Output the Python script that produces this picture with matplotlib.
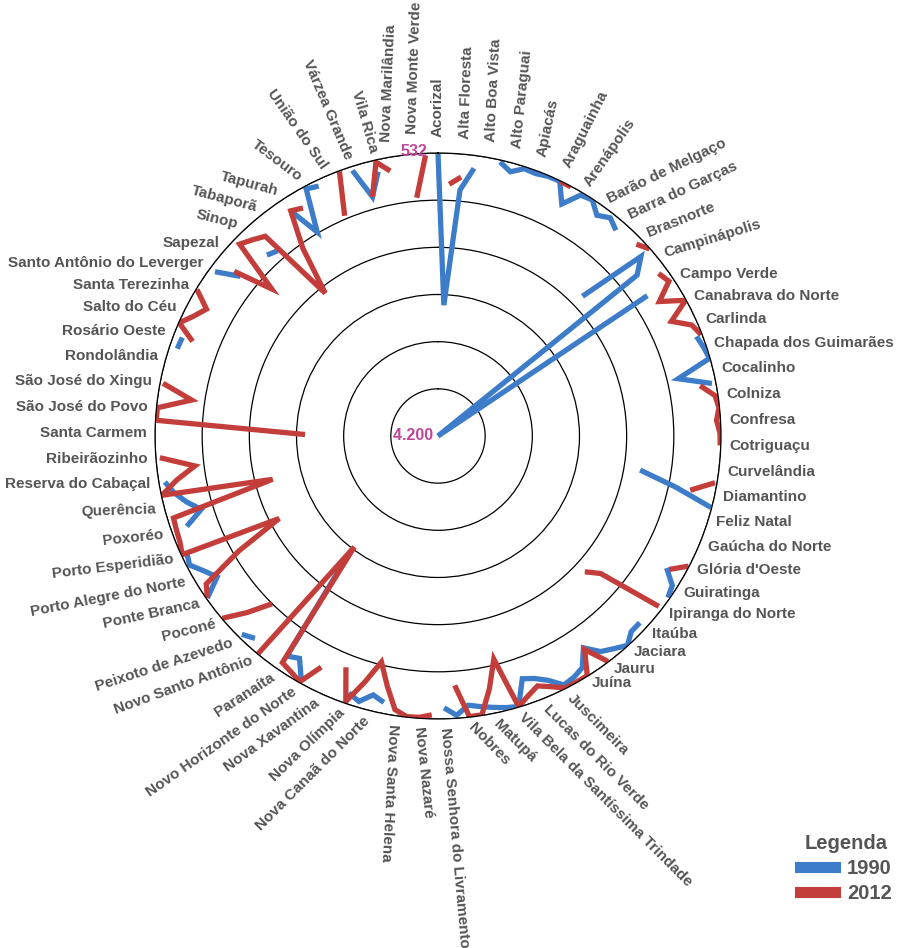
import numpy as np
import matplotlib.pyplot as plt
from matplotlib.lines import Line2D

nan = np.nan

# municipalities (every second one carries a label)
labels = ["Acorizal", "Alta Floresta", "Alto Boa Vista", "Alto Paraguai", "Apiacás",
          "Araguainha", "Arenápolis", "Barão de Melgaço", "Barra do Garças", "Brasnorte",
          "Campinápolis", "Campo Verde", "Canabrava do Norte", "Carlinda",
          "Chapada dos Guimarães", "Cocalinho", "Colniza", "Confresa", "Cotriguaçu",
          "Curvelândia", "Diamantino", "Feliz Natal", "Gaúcha do Norte", "Glória d'Oeste",
          "Guiratinga", "Ipiranga do Norte", "Itaúba", "Jaciara", "Jauru", "Juína",
          "Juscimeira", "Lucas do Rio Verde", "Vila Bela da Santíssima Trindade", "Matupá",
          "Nobres", "Nossa Senhora do Livramento", "Nova Nazaré", "Nova Santa Helena",
          "Nova Canaã do Norte", "Nova Olímpia", "Nova Xavantina", "Novo Horizonte do Norte",
          "Paranaíta", "Novo Santo Antônio", "Peixoto de Azevedo", "Poconé", "Ponte Branca",
          "Porto Alegre do Norte", "Porto Esperidião", "Poxoréo", "Querência",
          "Reserva do Cabaçal", "Ribeirãozinho", "Santa Carmem", "São José do Povo",
          "São José do Xingu", "Rondolândia", "Rosário Oeste", "Salto do Céu",
          "Santa Terezinha", "Santo Antônio do Leverger", "Sapezal", "Sinop", "Tabaporã",
          "Tapurah", "Tesouro", "União do Sul", "Várzea Grande", "Vila Rica",
          "Nova Marilândia", "Nova Monte Verde"]
n_points = 141

# text angle of every label
label_rot = [90, 88, 87, 84, 78, 63, 55, 26, 25, 22, 17] + [0] * 19 + \
            [-45, -45, -45, -45, -46, -85, -84, -93,
             45, 44, 36, 35, 33, 20, 18, 14, 12, 11, 7, 6, 2] + [0] * 11 + \
            [-14, -15, -15, -37, -55, -67, -74, 87.5, 88]

# ranking per municipality (nan = not shown)
rank_1990 = [540, 2502, 999, 700, nan, 558, 649, 560, 571, 545,
             540, 791, 571, 545, 675, 597, 675, nan, 1595, 688,
             882, 4200, 934, nan, nan, nan, nan, 610, 571, 540,
             999, 584, nan, nan, nan, nan, nan, nan, nan, 1543,
             1050, 540, nan, nan, nan, nan, nan, 778, 597, 558,
             nan, nan, 636, 636, 540, 623, 700, 869, 662, 610,
             584, 726, 817, 869, 540, 571, 610, 649, 688, 571,
             675, nan, nan, nan, nan, 675, 740, 610, 675, nan,
             nan, nan, 584, 804, 740, 2256, nan, 662, 584, nan,
             nan, nan, 545, 804, 700, 571, 610, nan, 740, 986,
             830, 700, 610, nan, nan, nan, nan, nan, nan, nan,
             nan, nan, nan, 636, 649, nan, nan, nan, nan, nan,
             610, 908, nan, nan, 973, 1025, nan, nan, 713, 1128,
             571, 610, nan, nan, 584, 986, 688, nan, nan, nan,
             nan]
rank_2012 = [nan, 934, 830, nan, nan, nan, nan, nan, nan, nan,
             540, 540, nan, nan, nan, nan, nan, nan, 623, 540,
             nan, 649, 597, 843, 540, 830, 610, 545, nan, nan,
             nan, 740, 571, 540, 584, 545, 540, nan, nan, 558,
             856, nan, nan, nan, nan, nan, 540, 740, nan, nan,
             584, 1439, 1608, nan, nan, nan, 540, 843, 540, 540,
             540, 636, 713, 636, 540, 1219, 856, 540, 540, 960,
             nan, 584, 545, 540, 610, 895, 1180, 869, 558, 973,
             nan, 843, 545, 597, 636, 2398, 540, nan, 1141, 830,
             540, nan, 545, 636, 1219, 1880, 545, 584, 597, 610,
             1984, 540, 765, 1025, 584, nan, 2476, 540, 545, 973,
             571, nan, nan, nan, 791, 540, 675, 778, 545, nan,
             nan, 804, 1323, 623, 700, 778, 1841, 1200, 713, 765,
             nan, nan, 1100, 540, nan, 986, 560, 710, nan, 1100,
             560]

rank_best = 532
rank_worst = 4200

blue = "#3d7cc9"
red = "#c33d3a"
grey = "#555555"
magenta = "#c0479b"

plt.rcParams['font.family'] = ['Liberation Sans', 'DejaVu Sans']

fig = plt.figure(figsize=(8.98, 9.48), dpi=100)
ax = fig.add_axes([0.1726, 0.2416, 0.6303, 0.597], projection='polar')
ax.set_theta_zero_location('N')
ax.set_theta_direction(-1)

theta = np.arange(n_points) * 2 * np.pi / n_points
ax.plot(theta, rank_1990, color=blue, lw=3.8, solid_capstyle='butt', solid_joinstyle='miter')
ax.plot(theta, rank_2012, color=red, lw=3.8, solid_capstyle='butt', solid_joinstyle='miter')

ax.set_ylim(rank_worst, rank_best)
rings = np.linspace(rank_worst, rank_best, 7)[1:]
ax.set_yticks(rings)
ax.set_yticklabels([])
ax.set_xticks([])
ax.yaxis.grid(True, color='black', lw=0.9)
ax.xaxis.grid(False)
ax.spines['polar'].set_linewidth(0.9)

ax.text(np.deg2rad(-4.9), rank_best - 30, "532", color=magenta, fontsize=11.5,
        fontweight='bold', ha='center', va='center')
ax.text(0, rank_worst, "4.200 ", color=magenta, fontsize=11.5, fontweight='bold',
        ha='right', va='center')

# labels around the circle
for i, name in enumerate(labels):
    ang = 2 * i * 360.0 / n_points
    ha = 'right' if 38 <= i <= 68 else 'left'
    r = 1.03
    if label_rot[i] > 60:
        r = 1.055
    if i >= 69:
        # pushed aside a little to leave room for the "532" tick
        ang -= 2.3
    if i == 70:
        r = 1.07
    ax.text(np.deg2rad(ang), r, name, transform=ax.get_xaxis_transform(),
            rotation=label_rot[i], rotation_mode='anchor', ha=ha, va='center',
            fontsize=11, fontweight='bold', color=grey, clip_on=False)

handles = [Line2D([], [], color=blue, lw=8), Line2D([], [], color=red, lw=8)]
leg = fig.legend(handles, ["1990", "2012"], title="Legenda", loc='upper right',
                 bbox_to_anchor=(1.013, 0.139), frameon=False, handlelength=1.7,
                 handletextpad=0.6, labelspacing=0.3,
                 prop={'size': 14.5, 'weight': 'bold'})
leg.get_title().set_fontweight('bold')
leg.get_title().set_fontsize(14.5)
leg.get_title().set_color(grey)
for txt in leg.get_texts():
    txt.set_color(grey)

fig.savefig("out.png", dpi=100)
